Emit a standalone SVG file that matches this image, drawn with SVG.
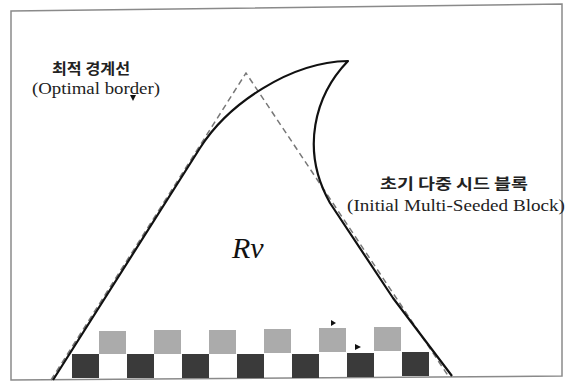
<svg xmlns="http://www.w3.org/2000/svg" width="568" height="381" viewBox="0 0 568 381">
<style>
.lbl{font-family:"Liberation Serif","Noto Sans CJK KR",serif;fill:#222}
.ko{font-size:15px;font-weight:bold;font-family:"Noto Sans CJK KR",sans-serif}
.en{font-size:16px}
.dark{fill:#3a3a3a}
.gray{fill:#ababab}
.mark{fill:#111}
</style>
<rect width="568" height="381" fill="#fff"/>
<polygon points="11,11 562,4 562,376 11,380" fill="none" stroke="#8a8a8a" stroke-width="1.5"/>
<g id="seed-block">
<rect class="dark" x="72" y="354" width="27" height="24"/>
<rect class="dark" x="127" y="354" width="27" height="24"/>
<rect class="dark" x="182" y="354" width="27" height="24"/>
<rect class="dark" x="237" y="354" width="27" height="24"/>
<rect class="dark" x="292" y="354" width="27" height="24"/>
<rect class="dark" x="347" y="353" width="27" height="24"/>
<rect class="dark" x="402" y="352" width="27" height="24"/>
<rect class="gray" x="99" y="331" width="27" height="23"/>
<rect class="gray" x="154" y="330" width="27" height="24"/>
<rect class="gray" x="209" y="330" width="27" height="24"/>
<rect class="gray" x="264" y="329" width="27" height="24"/>
<rect class="gray" x="319" y="328" width="27" height="24"/>
<rect class="gray" x="374" y="327" width="27" height="24"/>
</g>
<g id="connectors">
<path d="M51,380 L246,73 L449,377" fill="none" stroke="#777" stroke-width="1.5" stroke-dasharray="6,4"/>
</g>
<g id="region">
<path d="M53,380 L200,148 C228,104 290,62 348,61 C315,95 300,150 330,203 L393,298 L452,376" fill="none" stroke="#111" stroke-width="2.2" stroke-linejoin="round"/>
</g>
<g id="marks">
<polygon class="mark" points="130,95 136,95 133,101"/>
<polygon class="mark" points="331,320 336,323 331,326"/>
<polygon class="mark" points="355,344 361,347 355,350"/>
</g>
<g id="label-optimal">
<text class="lbl ko" x="91" y="74" text-anchor="middle" textLength="78" lengthAdjust="spacingAndGlyphs">최적 경계선</text>
<text class="lbl en" x="96" y="94" text-anchor="middle" textLength="128" lengthAdjust="spacingAndGlyphs">(Optimal border)</text>
</g>
<g id="label-seed">
<text class="lbl ko" x="454" y="189" text-anchor="middle" textLength="148" lengthAdjust="spacingAndGlyphs">초기 다중 시드 블록</text>
<text class="lbl en" x="456" y="211" text-anchor="middle" textLength="218" lengthAdjust="spacingAndGlyphs">(Initial Multi-Seeded Block)</text>
</g>
<g id="label-rv">
<text x="232" y="258" font-family="'Liberation Serif',serif" font-style="italic" font-size="30" fill="#111">Rv</text>
</g>
</svg>
